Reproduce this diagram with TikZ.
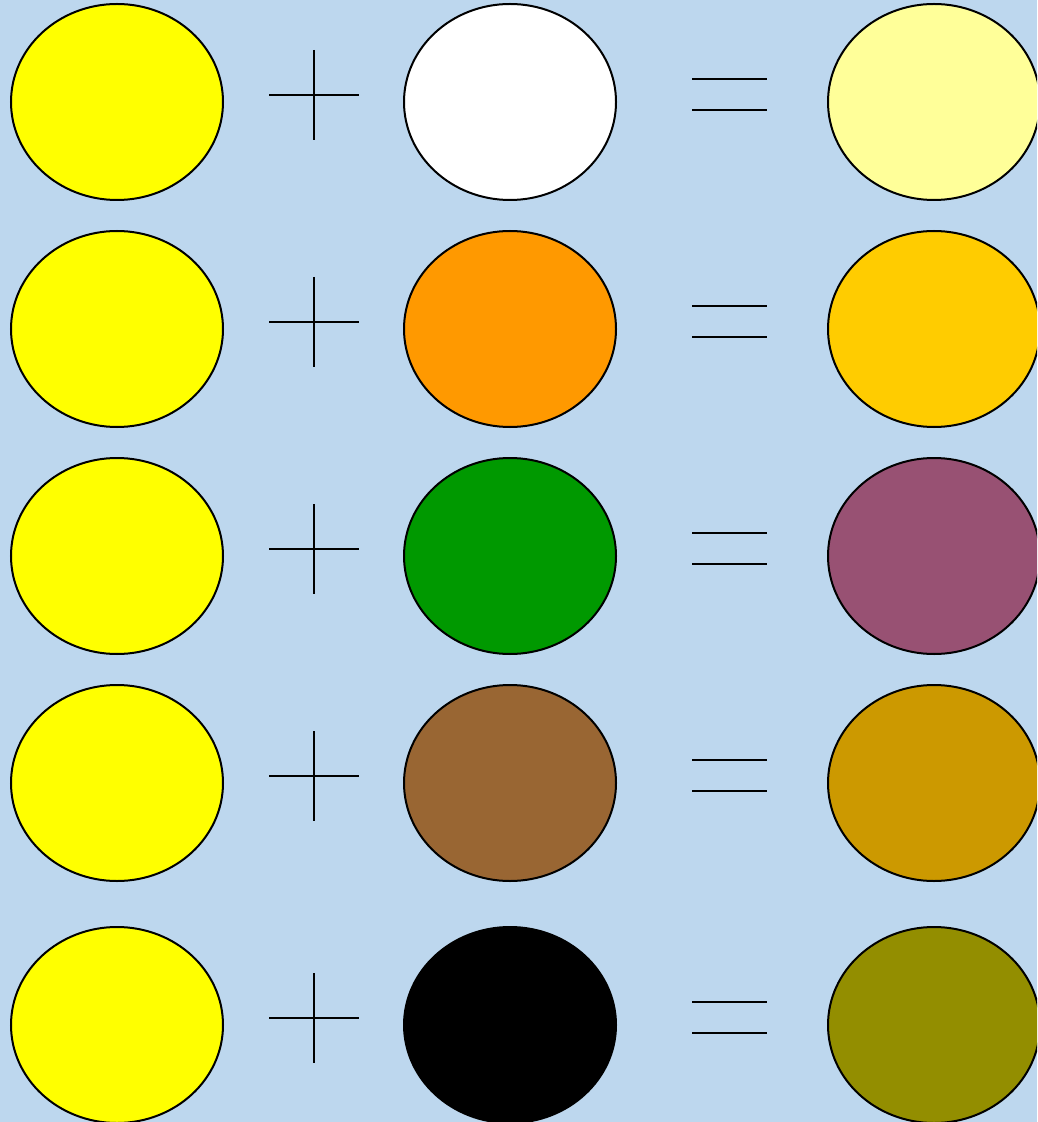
\documentclass[tikz,border=0pt]{standalone}
\usepackage{xcolor}
\usetikzlibrary{shapes.geometric}

\definecolor{skyback}{HTML}{BDD7EE}
\definecolor{paintyellow}{HTML}{FFFF00}
\definecolor{paintwhite}{HTML}{FFFFFF}
\definecolor{paintorange}{HTML}{FF9900}
\definecolor{paintgreen}{HTML}{009900}
\definecolor{paintbrown}{HTML}{996633}
\definecolor{paintblack}{HTML}{000000}
\definecolor{mixlemon}{HTML}{FFFF99}
\definecolor{mixamber}{HTML}{FFCC00}
\definecolor{mixplum}{HTML}{985173}
\definecolor{mixochre}{HTML}{CC9900}
\definecolor{mixolive}{HTML}{938E00}

\begin{document}
\begin{tikzpicture}[x=0.5pt, y=-0.5pt,
    blob/.style={ellipse, draw=black, line width=1pt, minimum width=106pt, minimum height=98pt, inner sep=0pt},
    sign/.style={draw=black, line width=1pt}]
    % background and frame
    \fill[skyback] (0,0) rectangle (1037,1122);
    \useasboundingbox (0,0) rectangle (1037,1122);
    \clip (0,0) rectangle (1037,1122);

    % one row per mixture: yellow + paint = result
    \foreach \y/\paint/\result [count=\i] in {102/paintwhite/mixlemon, 329/paintorange/mixamber, 556/paintgreen/mixplum, 783/paintbrown/mixochre, 1025/paintblack/mixolive} {
        \node[blob, fill=paintyellow] (base\i) at (117,\y) {};
        \node[blob, fill=\paint] (paint\i) at (510,\y) {};
        \node[blob, fill=\result] (result\i) at (934,\y) {};
        % plus sign
        \draw[sign] (269,\y-7) -- (359,\y-7);
        \draw[sign] (314,\y-52) -- (314,\y+38);
        % equals sign
        \draw[sign] (692,\y-23) -- (767,\y-23);
        \draw[sign] (692,\y+8) -- (767,\y+8);
    }
\end{tikzpicture}
\end{document}
